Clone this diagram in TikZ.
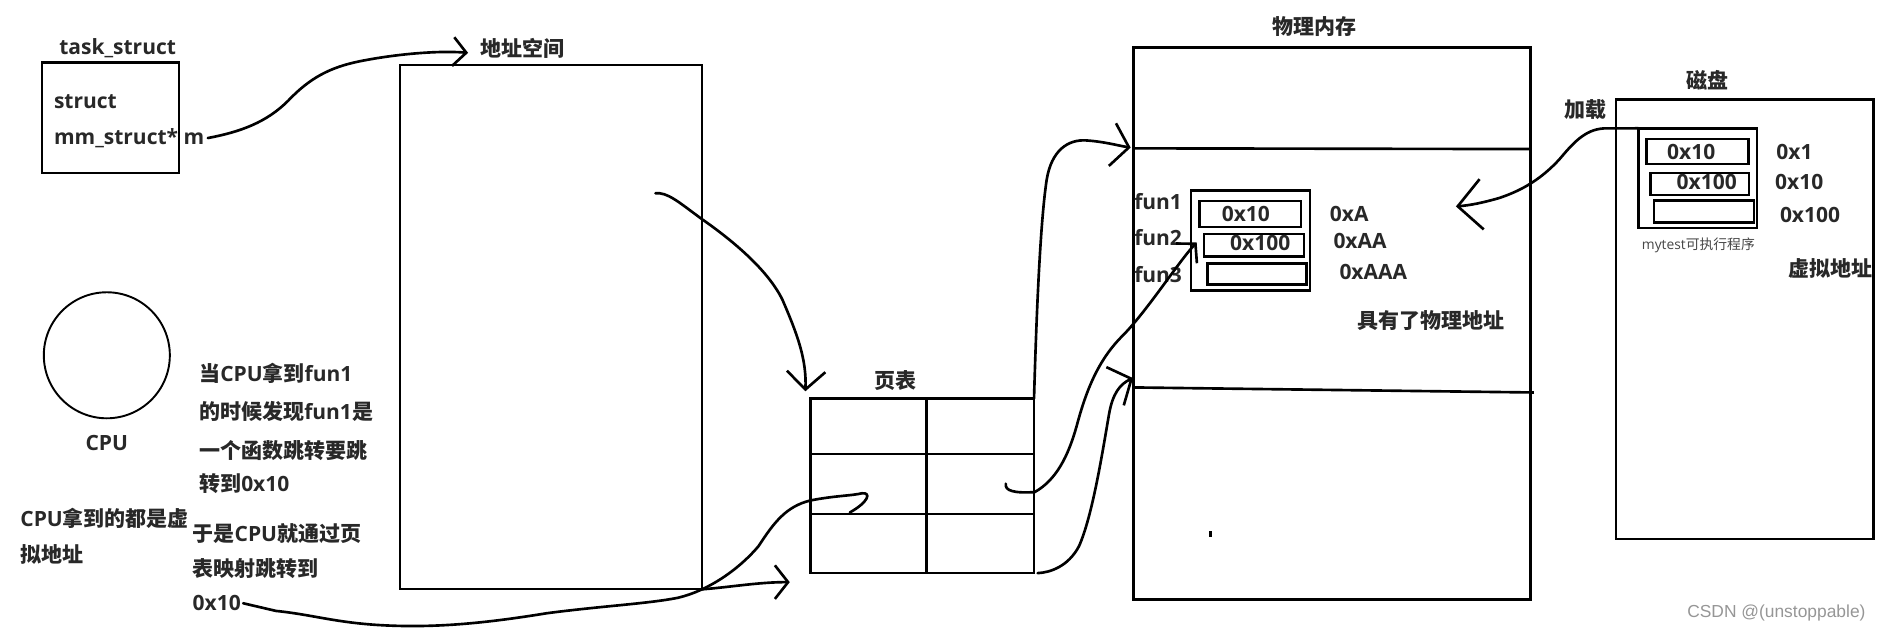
\documentclass[tikz,border=0pt]{standalone}
\usepackage{fontspec}
\setmainfont{Open Sans}
\newfontfamily\cjk{Noto Sans CJK SC}
\newfontfamily\wmfont{Liberation Sans}
\usetikzlibrary{arrows.meta}
\newcommand\zh[1]{{\cjk #1}}
\definecolor{txt}{RGB}{40,40,40}
\definecolor{wmgray}{RGB}{150,150,150}
\definecolor{smallgray}{RGB}{70,70,70}
\begin{document}
\begin{tikzpicture}[x=1pt,y=-1pt,
  lbl/.style={inner sep=0pt, outer sep=0pt, text=txt, font=\fontsize{17.5}{31}\selectfont\bfseries},
  small/.style={inner sep=0pt, outer sep=0pt, text=smallgray, font=\fontsize{11.5}{14}\selectfont},
  wm/.style={inner sep=0pt, text=wmgray, font=\wmfont\fontsize{14.5}{16}\selectfont},
  boxthick/.style={draw, line width=2.2pt, inner sep=0pt, outer sep=0pt},
  boxthin/.style={draw, line width=1.6pt, inner sep=0pt, outer sep=0pt},
  slot/.style={draw, line width=2pt, inner sep=0pt, outer sep=0pt},
  gridline/.style={line width=2pt},
  hand/.style={line width=2.2pt, line cap=round, line join=round}]
\useasboundingbox (0,0) rectangle (1568,527);

% task_struct
\node[lbl] (tasklbl) at (98,40) {task\_struct};
\node[boxthick, minimum width=114pt, minimum height=92pt] (task) at (92,98) {};
\node[lbl, anchor=west] (t1) at (45,85) {struct};
\node[lbl, anchor=west] (t2) at (45,115) {mm\_struct* m};

% address space
\node[lbl, anchor=west] (aslbl) at (400,40) {\zh{地址空间}};
\node[boxthin, minimum width=252pt, minimum height=437pt] (as) at (459,272.5) {};

% page table
\node[lbl] (ptlbl) at (746,317) {\zh{页表}};
\node[boxthick, minimum width=186pt, minimum height=145.5pt] (pt) at (768.5,404.75) {};
\draw[gridline] (772,332) -- (772,477.5);
\draw[gridline] (675.5,378) -- (861.5,378);
\draw[gridline] (675.5,428) -- (861.5,428);

% physical memory
\node[lbl] (pmlbl) at (1095,22) {\zh{物理内存}};
\node[boxthick, minimum width=330.6pt, minimum height=459.6pt] (pm) at (1109.8,269.5) {};
\draw[line width=2.2pt] (944.5,123.6) -- (1276,124.2);
\draw[line width=2.2pt] (945,322.8) -- (1278,327);
\node[slot, minimum width=99pt, minimum height=83.3pt] (pin) at (1041.9,200.5) {};
\node[slot, minimum width=84.8pt, minimum height=21.4pt] (s1) at (1041.6,178.2) {};
\node[slot, minimum width=83.4pt, minimum height=18.6pt] (s2) at (1044.7,204.5) {};
\node[slot, minimum width=82.7pt, minimum height=17.5pt] (s3) at (1047.25,228.15) {};
\node[lbl] (v1) at (1038,178) {0x10};
\node[lbl] (v2) at (1050,202.5) {0x100};
\node[lbl, anchor=west] (f1) at (945,168) {fun1};
\node[lbl, anchor=west] (f2) at (945,198) {fun2};
\node[lbl, anchor=west] (f3) at (945,229) {fun3};
\node[lbl, anchor=west] (a1) at (1108,178) {0xA};
\node[lbl, anchor=west] (a2) at (1111,200.5) {0xAA};
\node[lbl, anchor=west] (a3) at (1116,226.5) {0xAAA};
\node[lbl] (physlbl) at (1192,267) {\zh{具有了物理地址}};
\fill (1007,442) rectangle (1009.5,447);

% disk
\node[lbl] (dklbl) at (1423,66.6) {\zh{磁盘}};
\node[lbl] (load) at (1321,91) {\zh{加载}};
\node[boxthick, minimum width=214.5pt, minimum height=366.2pt] (dk) at (1453.75,265.9) {};
\node[slot, minimum width=98.6pt, minimum height=83.3pt] (din) at (1414.3,148.55) {};
\node[slot, minimum width=84.7pt, minimum height=20.8pt] (d1) at (1414.25,126.2) {};
\node[slot, minimum width=82.2pt, minimum height=18.6pt] (d2) at (1416.3,153.2) {};
\node[slot, minimum width=83.3pt, minimum height=18.3pt] (d3) at (1419.65,176.35) {};
\node[lbl] (dv1) at (1409,126.4) {0x10};
\node[lbl] (dv2) at (1422,151.4) {0x100};
\node[lbl, anchor=west] (b1) at (1480,127) {0x1};
\node[lbl, anchor=west] (b2) at (1479,152) {0x10};
\node[lbl, anchor=west] (b3) at (1483,179) {0x100};
\node[small] (exe) at (1415,204) {mytest\zh{可执行程序}};
\node[lbl, anchor=west] (virt) at (1490,223.6) {\zh{虚拟地址}};

% CPU
\node[draw, circle, line width=1.6pt, minimum size=105pt, inner sep=0pt] (cpu) at (89,296) {};
\node[lbl] (cpulbl) at (89,369.4) {CPU};
\node[lbl, anchor=west] (n1) at (166,311) {\zh{当}CPU\zh{拿到}fun1};
\node[lbl, anchor=west] (n2) at (166,343) {\zh{的时候发现}fun1\zh{是}};
\node[lbl, anchor=west] (n3) at (166,375) {\zh{一个函数跳转要跳}};
\node[lbl, anchor=west] (n4) at (166,403) {\zh{转到}0x10};
\node[lbl, anchor=west] (m1) at (160.5,444.3) {\zh{于是}CPU\zh{就通过页}};
\node[lbl, anchor=west] (m2) at (160.5,473.5) {\zh{表映射跳转到}};
\node[lbl, anchor=west] (ten) at (160.5,502.6) {0x10};
\node[lbl, anchor=west] (k1) at (17,431.8) {CPU\zh{拿到的都是虚}};
\node[lbl, anchor=west] (k2) at (17,462.4) {\zh{拟地址}};

\node[wm] (csdn) at (1480,511) {CSDN @(unstoppable)};

% connector end points
\coordinate (asTip) at (390,44);
\coordinate (asOut) at (546,161);
\coordinate (ptTip) at (671,326);
\coordinate (pmTip1) at (942,123);
\coordinate (hookR) at (838,403);
\coordinate (fun2Tip) at (997,202);
\coordinate (pmTip2) at (944,315);
\coordinate (dkTip) at (1213,172);
\coordinate (hookL) at (708,427);
\coordinate (brTip) at (658,485);

% connectors
\draw[hand, -{Straight Barb[length=11pt,width=24pt]}] ([xshift=3pt]t2.east) .. controls (200,110) and (222,102) .. (240,84) .. controls (258,65) and (275,56) .. (300,51) .. controls (330,45) and (365,42) .. (asTip);
\draw[hand, -{Straight Barb[length=15pt,width=32pt]}] (asOut) .. controls (556,160) and (565,168) .. (584,182) .. controls (610,200) and (640,225) .. (652,250) .. controls (665,280) and (672,300) .. (ptTip);
\draw[hand, -{Straight Barb[length=14pt,width=36pt]}] (pt.north east) .. controls (863,280) and (866,190) .. (872,150) .. controls (876,125) and (890,116) .. (905,117) .. controls (920,118) and (930,121) .. (pmTip1);
\draw[hand, -{Straight Barb[length=11pt,width=24pt]}] (hookR) .. controls (837,409) and (845,411) .. (862,410) .. controls (880,400) and (890,380) .. (897,355) .. controls (905,325) and (915,300) .. (935,280) .. controls (955,260) and (982,218) .. (fun2Tip);
\draw[hand, -{Straight Barb[length=15pt,width=35pt]}] ([xshift=3pt]pt.south east) .. controls (875,477) and (890,472) .. (899,455) .. controls (910,430) and (918,380) .. (924,345) .. controls (927,328) and (933,320) .. (pmTip2);
\draw[hand, -{Straight Barb[length=20pt,width=42pt]}] (din.north west) -- (1336,107) .. controls (1320,108) and (1310,120) .. (1299,133) .. controls (1285,148) and (1270,158) .. (1249,165) .. controls (1235,169) and (1225,171) .. (dkTip);
\draw[hand] ([xshift=2pt]ten.east) -- (230,509) .. controls (260,512) and (280,519) .. (320,521) .. controls (360,523) and (400,520) .. (455,511) .. controls (500,505) and (540,503) .. (565,498) .. controls (590,492) and (615,475) .. (632,455) .. controls (645,435) and (655,422) .. (675,417) .. controls (695,413) and (710,413) .. (718,411) .. controls (726,410) and (724,418) .. (hookL);
\draw[hand, -{Straight Barb[length=11pt,width=28pt]}] (as.south east) .. controls (610,489) and (632,485) .. (brTip);
\end{tikzpicture}
\end{document}
